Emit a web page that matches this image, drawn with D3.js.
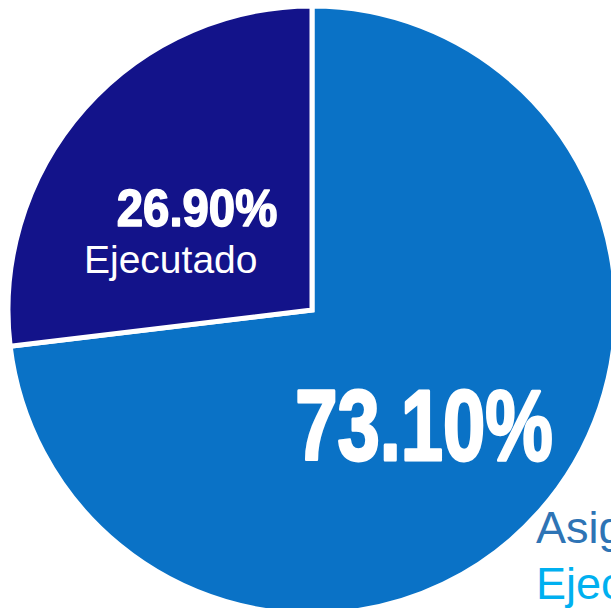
<!DOCTYPE html>
<html>
<head>
<meta charset="utf-8">
<script src="https://cdn.jsdelivr.net/npm/d3@7"></script>
<style>
  html, body { margin: 0; padding: 0; background: #fff; overflow: hidden; }
  svg { display: block; }
</style>
</head>
<body>
<div id="chart"></div>
<script>
// pie data
var categories = ["Asignado", "Ejecutado"];
var values = [73.10, 26.90];
var valueLabels = ["73.10%", "26.90%"];
var sliceColors = ["#0a72c6", "#13138a"];
var legendColors = ["#2e74b5", "#00b0f0"];

var width = 611, height = 608;
var cx = 312, cy = 310, radius = 304;

var svg = d3.select("#chart").append("svg")
    .attr("width", width)
    .attr("height", height);

var pie = d3.pie().sort(null).value(function(d) { return d; });
var arc = d3.arc().innerRadius(0).outerRadius(radius);
var arcs = pie(values);

var g = svg.append("g").attr("transform", "translate(" + cx + "," + cy + ")");

g.selectAll("path.slice")
    .data(arcs)
    .enter().append("path")
      .attr("class", "slice")
      .attr("d", arc)
      .attr("fill", function(d, i) { return sliceColors[i]; })
      .attr("stroke", "#fff")
      .attr("stroke-width", 5)
      .attr("stroke-linejoin", "miter");

// big condensed percentage labels (stroke fakes the black weight)
var pctPos = [[112, 150, 100, 0.76, 3], [-115, -84, 52, 0.91, 1.6]]; // x, y, size, squeeze, stroke
g.selectAll("text.pct")
    .data(arcs)
    .enter().append("text")
      .attr("class", "pct")
      .attr("transform", function(d, i) {
        var p = pctPos[i];
        return "translate(" + p[0] + "," + p[1] + ") scale(" + p[3] + ",1)";
      })
      .attr("text-anchor", "middle")
      .style("font-family", "'Liberation Sans', Arial, sans-serif")
      .style("font-weight", "bold")
      .style("font-size", function(d, i) { return pctPos[i][2] + "px"; })
      .attr("fill", "#fff")
      .attr("stroke", "#fff")
      .attr("stroke-width", function(d, i) { return pctPos[i][4]; })
      .attr("stroke-linejoin", "round")
      .text(function(d, i) { return valueLabels[i]; });

// name inside the small slice
g.append("text")
    .attr("x", -228)
    .attr("y", -37)
    .style("font-family", "'Liberation Sans', Arial, sans-serif")
    .style("font-size", "39px")
    .attr("fill", "#fff")
    .text(categories[1]);

// legend (runs off the right edge, as in the original)
svg.selectAll("text.legend")
    .data(categories)
    .enter().append("text")
      .attr("class", "legend")
      .attr("x", 536)
      .attr("y", function(d, i) { return 543 + i * 56; })
      .style("font-family", "'Liberation Sans', Arial, sans-serif")
      .style("font-size", "45px")
      .attr("fill", function(d, i) { return legendColors[i]; })
      .text(function(d) { return d; });
</script>
</body>
</html>
